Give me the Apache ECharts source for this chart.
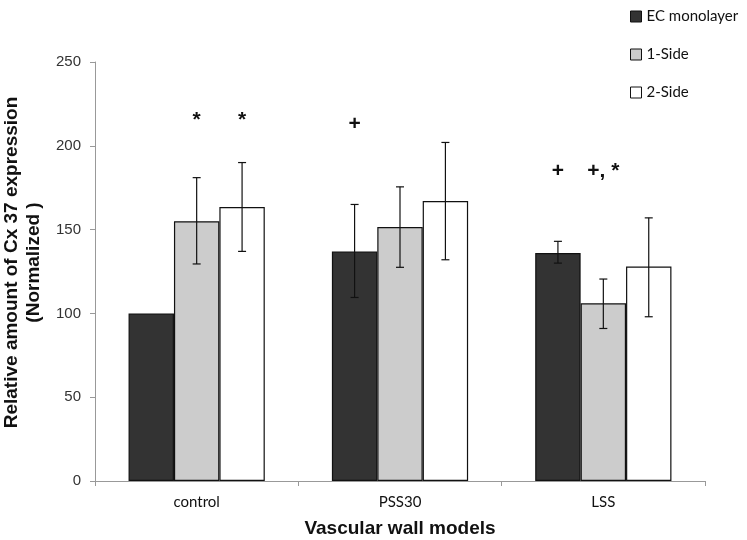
<!DOCTYPE html>
<html><head><meta charset="utf-8">
<script src="https://cdn.jsdelivr.net/npm/echarts@6/dist/echarts.min.js"></script>
<style>html,body{margin:0;padding:0;background:#fff}#c{width:747px;height:540px}</style>
</head><body><div id="c"></div>
<script>
const categories = ['control', 'PSS30', 'LSS'];
const seriesNames = ['EC monolayer', '1-Side', '2-Side'];
const ecMonolayer = [100, 137, 136];
const oneSide = [155, 151.5, 106];
const twoSide = [163.5, 167, 128];
const ecErr = [null, [109.5, 165], [130, 143]];
const oneSideErr = [[129.5, 181], [127.5, 175.5], [91, 120.5]];
const twoSideErr = [[137, 190], [132, 202], [98, 157]];
// annotations: [category index, series index, y value, text]
const annotations = [[0, 1, 215, '*'], [0, 2, 215, '*'], [1, 0, 213, '+'], [2, 0, 185, '+'], [2, 1, 185, '+, *']];
const yTicks = { min: 0, max: 250, interval: 50 };

const fills = ['#333333', '#cccccc', '#ffffff'];
const values = [ecMonolayer, oneSide, twoSide];
const errs = [ecErr, oneSideErr, twoSideErr];
const GAP = 0.33;

function barOffset(api, si) {
  const band = api.size([1, 0])[0];
  const bw = band * (1 - GAP) / 3;
  return (si - 1) * bw;
}

const series = [];
seriesNames.forEach((n, i) => {
  series.push({
    name: n, type: 'bar', data: values[i], barGap: '0%', barCategoryGap: '33%',
    itemStyle: { color: fills[i], borderColor: '#111', borderWidth: 1.2 },
    emphasis: { disabled: true }
  });
});
errs.forEach((arr, si) => {
  const d = [];
  arr.forEach((e, ci) => { if (e) d.push([ci, e[0], e[1]]); });
  series.push({
    type: 'custom', name: 'err' + si, data: d, z: 10, silent: true,
    renderItem: function (params, api) {
      const off = barOffset(api, si);
      const lo = api.coord([api.value(0), api.value(1)]);
      const hi = api.coord([api.value(0), api.value(2)]);
      const x = lo[0] + off;
      const cap = 4;
      const st = { stroke: '#111', lineWidth: 1.2 };
      return { type: 'group', children: [
        { type: 'line', shape: { x1: x, y1: lo[1], x2: x, y2: hi[1] }, style: st },
        { type: 'line', shape: { x1: x - cap, y1: lo[1], x2: x + cap, y2: lo[1] }, style: st },
        { type: 'line', shape: { x1: x - cap, y1: hi[1], x2: x + cap, y2: hi[1] }, style: st }
      ]};
    }
  });
});
series.push({
  type: 'custom', name: 'ann', silent: true, z: 10,
  data: annotations.map(a => [a[0], a[2], a[1], a[3]]),
  renderItem: function (params, api) {
    const a = annotations[params.dataIndex];
    const off = barOffset(api, a[1]);
    const p = api.coord([a[0], a[2]]);
    return { type: 'text', x: p[0] + off, y: p[1], style: {
      text: a[3], fill: '#111', font: 'bold 21px "Liberation Sans", Arial, sans-serif',
      align: 'center', verticalAlign: 'middle' } };
  }
});

const chart = echarts.init(document.getElementById('c'), null, { renderer: 'canvas' });
chart.setOption({
  animation: false,
  backgroundColor: '#fff',
  grid: { left: 95, right: 42, top: 62, bottom: 59, containLabel: false, outerBoundsMode: 'none' },
  legend: {
    data: seriesNames, orient: 'vertical', left: 625, top: 4,
    itemWidth: 11, itemHeight: 11, itemGap: 23, icon: 'rect',
    textStyle: { fontSize: 15, color: '#111', fontFamily: 'Lato, "Open Sans", sans-serif' },
    itemStyle: { borderColor: '#111', borderWidth: 1 }
  },
  xAxis: {
    type: 'category', data: categories,
    name: 'Vascular wall models', nameLocation: 'middle', nameGap: 38,
    nameTextStyle: { fontSize: 19, fontWeight: 'bold', color: '#111', fontFamily: '"Liberation Sans", Arial, sans-serif' },
    axisLine: { lineStyle: { color: '#999', width: 1 } },
    axisTick: { show: true, length: 5, lineStyle: { color: '#999' } },
    axisLabel: { fontSize: 15, color: '#111', margin: 14, fontFamily: 'Lato, "Open Sans", sans-serif' }
  },
  yAxis: {
    type: 'value', min: yTicks.min, max: yTicks.max, interval: yTicks.interval,
    name: 'Relative amount of Cx 37 expression\n(Normalized )', nameLocation: 'middle', nameGap: 38, nameRotate: 90,
    nameTextStyle: { fontSize: 19, fontWeight: 'bold', color: '#111', lineHeight: 22, padding: [0, 0, 0, 18], fontFamily: '"Liberation Sans", Arial, sans-serif' },
    axisLine: { show: true, lineStyle: { color: '#999', width: 1 } },
    axisTick: { show: true, length: 5, lineStyle: { color: '#999' } },
    splitLine: { show: false },
    axisLabel: { fontSize: 15, color: '#333', margin: 14, fontFamily: '"Liberation Sans", Arial, sans-serif' }
  },
  series: series
});
</script></body></html>
